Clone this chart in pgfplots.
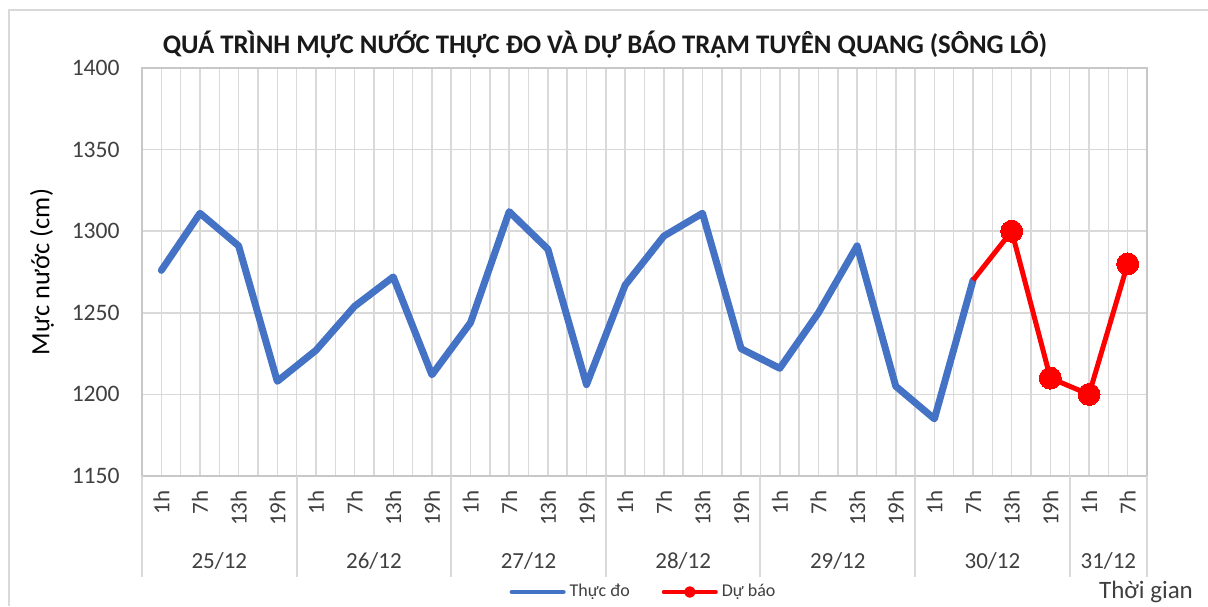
\documentclass[border=0pt]{standalone}
\usepackage{fontspec}
\setmainfont{Carlito}
\usepackage{pgfplots}
\pgfplotsset{compat=1.18}
\definecolor{blueline}{HTML}{4472C4}
\definecolor{redline}{HTML}{FF0000}
\definecolor{gridc}{HTML}{D9D9D9}
\definecolor{hgridc}{HTML}{C8C8C8}
\definecolor{txt}{HTML}{404040}
\begin{document}
\begin{tikzpicture}[x=1pt,y=1pt]
\useasboundingbox (0,0) rectangle (604,303);
\draw[gridc, line width=1pt] (4.7,0) -- (4.7,298) -- (604,298);
\node[font=\fontsize{13.4}{15}\selectfont\bfseries, text=black!90] at (302.5,280.5) {QUÁ TRÌNH MỰC NƯỚC THỰC ĐO VÀ DỰ BÁO TRẠM TUYÊN QUANG (SÔNG LÔ)};
\node[font=\fontsize{12.5}{14}\selectfont, text=txt] at (573,7) {Thời gian};
\begin{axis}[
  at={(71pt,65pt)}, anchor=south west, scale only axis,
  width=502.5pt, height=204pt,
  xmin=-0.5, xmax=25.5, ymin=1150, ymax=1400,
  ytick={1150,1200,1250,1300,1350,1400},
  xtick={0,...,25},
  xticklabels={1h,7h,13h,19h,1h,7h,13h,19h,1h,7h,13h,19h,1h,7h,13h,19h,1h,7h,13h,19h,1h,7h,13h,19h,1h,7h},
  minor x tick num=1,
  xmajorgrids, xminorgrids, ymajorgrids,
  major grid style={gridc, line width=0.75pt},
  minor grid style={gridc, line width=0.75pt},
  major tick length=0pt, minor tick length=0pt,
  axis line style={hgridc, line width=0.9pt},
  /pgf/number format/assume math mode=true,
  /pgf/number format/1000 sep={},
  yticklabel style={font=\fontsize{11.8}{13}\selectfont, text=txt, inner sep=0pt, xshift=-11pt},
  xticklabel style={yshift=-7pt, rotate=90, anchor=east, inner sep=0pt, font=\fontsize{11.5}{13}\selectfont, text=txt},
  ylabel={Mực nước (cm)},
  every axis y label/.style={at={(rel axis cs:0,0.5)}, xshift=-50pt, rotate=90, anchor=center, font=\fontsize{13.2}{15}\selectfont, text=black},
  clip=false,
  legend columns=2,
  legend style={at={(rel axis cs:0.5,0)}, anchor=center, yshift=-58pt, draw=none, fill=none,
    font=\fontsize{9}{10}\selectfont, text=txt,
    /tikz/every even column/.append style={column sep=14pt}},
]
\addplot[blueline, line width=3.5pt, line join=round, line cap=round, no markers,
  legend image code/.code={\draw[blueline, line width=2pt, line cap=round] (0pt,0pt) -- (26pt,0pt);}]
coordinates {(0,1276) (1,1311) (2,1291) (3,1208) (4,1227) (5,1254) (6,1272) (7,1212) (8,1244) (9,1312) (10,1289) (11,1206) (12,1267) (13,1297) (14,1311) (15,1228) (16,1216) (17,1250) (18,1291) (19,1205) (20,1185) (21,1270)};
\addlegendentry{Thực đo}
\addplot[redline, line width=2.5pt, line join=round, mark=*, mark size=5.5pt, mark indices={2,3,4,5},
  mark options={fill=redline, draw=redline, line width=0pt},
  legend image code/.code={\draw[redline, line width=2pt, line cap=round] (0pt,0pt) -- (26pt,0pt); \fill[redline] (13pt,0pt) circle (1.6pt);}]
coordinates {(21,1270) (22,1300) (23,1210) (24,1200) (25,1280)};
\addlegendentry{Dự báo}
\foreach \s in {-0.5,3.5,7.5,11.5,15.5,19.5,23.5,25.5} {
  \edef\tmp{\noexpand\draw[gridc, line width=1pt] (axis cs:\s,1150) -- ([yshift=-50.5pt]axis cs:\s,1150);}
  \tmp
}
\foreach \c/\l in {1.5/25\slash12, 5.5/26\slash12, 9.5/27\slash12, 13.5/28\slash12, 17.5/29\slash12, 21.5/30\slash12, 24.5/31\slash12} {
  \edef\tmp{\noexpand\node[font=\noexpand\fontsize{11.5}{13}\noexpand\selectfont, text=txt] at ([yshift=-42.5pt]axis cs:\c,1150) {\unexpanded\expandafter{\l}};}
  \tmp
}
\end{axis}
\end{tikzpicture}
\end{document}
